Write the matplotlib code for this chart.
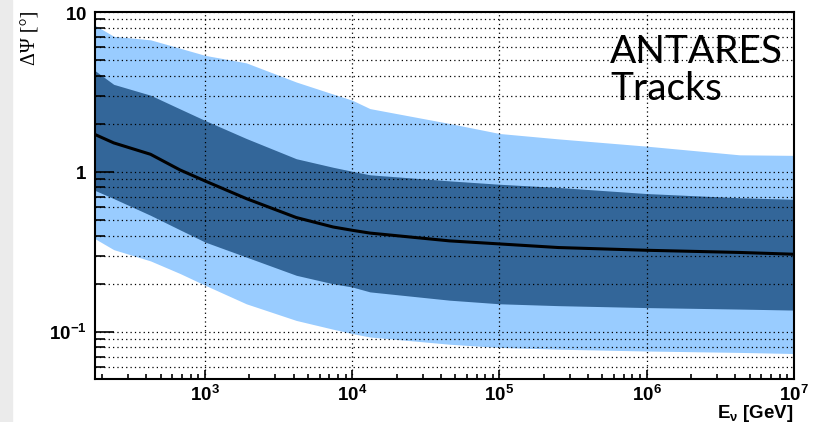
"""
Angular resolution of ANTARES track events vs neutrino energy
(median with 1 and 2 sigma bands).
"""

import numpy as np
from matplotlib import pyplot as plt
from matplotlib import ticker
from matplotlib.patches import Rectangle

# log10(E / GeV) sample points
log_energy = [2.25, 2.38, 2.63, 2.83, 3.0, 3.28, 3.62, 3.87, 4.0, 4.12,
              4.66, 5.0, 5.4, 6.0, 6.63, 7.0]

# Delta Psi [deg]
median = [1.72, 1.52, 1.29, 1.03, 0.879, 0.682, 0.519, 0.453, 0.432, 0.415,
          0.371, 0.355, 0.337, 0.324, 0.314, 0.306]
band1_hi = [4.32, 3.53, 3.02, 2.48, 2.10, 1.62, 1.21, 1.07, 1.01, 0.96,
            0.88, 0.838, 0.80, 0.733, 0.69, 0.675]
band1_lo = [0.769, 0.682, 0.536, 0.435, 0.365, 0.294, 0.226, 0.20, 0.191, 0.178,
            0.158, 0.150, 0.146, 0.142, 0.139, 0.137]
band2_hi = [8.3, 7.05, 6.7, 5.94, 5.36, 4.81, 3.65, 3.07, 2.81, 2.49,
            2.01, 1.74, 1.61, 1.45, 1.28, 1.27]
band2_lo = [0.384, 0.327, 0.278, 0.232, 0.196, 0.150, 0.118, 0.104, 0.0977, 0.093,
            0.0838, 0.080, 0.078, 0.076, 0.0745, 0.0733]

plt.rcParams['mathtext.fontset'] = 'custom'
plt.rcParams['mathtext.rm'] = 'Liberation Sans:bold'
plt.rcParams['mathtext.bf'] = 'Liberation Sans:bold'
plt.rcParams['mathtext.default'] = 'bf'

energy = 10 ** np.array(log_energy)

fig = plt.figure(figsize=(8.22, 4.22), dpi=100)
fig.patches.append(Rectangle((0, 0), 12 / 822, 1, transform=fig.transFigure,
                             color='#ebebeb', zorder=0))
ax = fig.add_axes([95 / 822, 43 / 422, 699 / 822, 367 / 422])

ax.fill_between(energy, band2_lo, band2_hi, color='#99ccff', lw=0, zorder=1)
ax.fill_between(energy, band1_lo, band1_hi, color='#336699', lw=0, zorder=2)
ax.plot(energy, median, color='black', lw=2.2, zorder=4)

ax.set_xscale('log')
ax.set_yscale('log')
ax.set_xlim(10 ** 2.253, 1e7)
ax.set_ylim(0.0508, 10)

# ROOT-like ticks
ax.xaxis.set_major_locator(ticker.FixedLocator([1e3, 1e4, 1e5, 1e6, 1e7]))
ax.xaxis.set_major_formatter(ticker.FixedFormatter(
    ['$10^{3}$', '$10^{4}$', '$10^{5}$', '$10^{6}$', '$10^{7}$']))
ax.xaxis.set_minor_locator(ticker.LogLocator(base=10, subs=np.arange(2, 10)))
ax.xaxis.set_minor_formatter(ticker.NullFormatter())
ax.yaxis.set_major_locator(ticker.FixedLocator([0.1, 1, 10]))
ax.yaxis.set_major_formatter(ticker.FixedFormatter(['$10^{-1}$', '$1$', '$10$']))
ax.yaxis.set_minor_locator(ticker.LogLocator(base=10, subs=np.arange(2, 10)))
ax.yaxis.set_minor_formatter(ticker.NullFormatter())

ax.tick_params(which='both', direction='in', top=False, right=False,
               width=1.2, color='black')
ax.tick_params(axis='x', which='major', length=6.5, labelsize=13.5, pad=4)
ax.tick_params(axis='x', which='minor', length=3.6)
ax.tick_params(axis='y', which='major', length=14, labelsize=13.5, pad=6)
ax.tick_params(axis='y', which='minor', length=7)

ax.grid(True, axis='x', which='major', ls=(0, (1, 2.5)), color='black', lw=0.9, zorder=3)
ax.grid(True, axis='y', which='both', ls=(0, (1, 2.5)), color='black', lw=0.9, zorder=3)
ax.set_axisbelow(False)

for s in ax.spines.values():
    s.set_linewidth(1.5)
    s.set_zorder(5)

ax.set_xlabel(r'E$_{\nu}$ [GeV]', fontsize=13.5, fontweight='bold', family='Liberation Sans')
ax.xaxis.set_label_coords(1.0, -0.105)
ax.xaxis.label.set_horizontalalignment('right')
ax.xaxis.label.set_verticalalignment('baseline')

fig.text(31 / 822, 1 - 11 / 422, 'ΔΨ [°]', rotation=90, ha='center', va='top',
         fontsize=14.5, family='Liberation Serif')

ax.text(0.737, 0.861, 'ANTARES', transform=ax.transAxes, fontsize=28,
        family='Lato', va='baseline', ha='left', zorder=6)
ax.text(0.737, 0.760, 'Tracks', transform=ax.transAxes, fontsize=28,
        family='Lato', va='baseline', ha='left', zorder=6)

fig.savefig('out.png', dpi=100)
